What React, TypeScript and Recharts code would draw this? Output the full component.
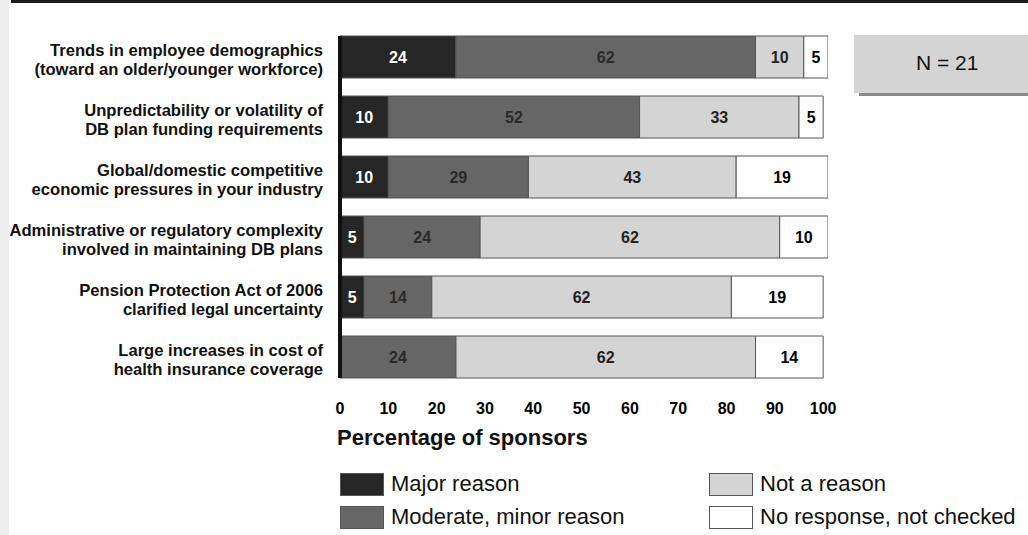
import React from 'react';
import { BarChart, Bar, XAxis, YAxis, LabelList } from 'recharts';

const categories = [
    'Trends in employee demographics\n(toward an older/younger workforce)',
    'Unpredictability or volatility of\nDB plan funding requirements',
    'Global/domestic competitive\neconomic pressures in your industry',
    'Administrative or regulatory complexity\ninvolved in maintaining DB plans',
    'Pension Protection Act of 2006\nclarified legal uncertainty',
    'Large increases in cost of\nhealth insurance coverage',
];
const majorReason = [24, 10, 10, 5, 5, 0];
const moderateReason = [62, 52, 29, 24, 14, 24];
const notReason = [10, 33, 43, 62, 62, 62];
const noResponse = [5, 5, 19, 10, 19, 14];
const xTicks = [0, 10, 20, 30, 40, 50, 60, 70, 80, 90, 100];

const seriesKeys = ['major', 'moderate', 'notReason', 'noResponse'];
const seriesNames = ['Major reason', 'Moderate, minor reason', 'Not a reason', 'No response, not checked'];
const seriesColors = ['#262626', '#666666', '#d4d4d4', '#ffffff'];
const labelColors = ['#ffffff', '#2a2a2a', '#222222', '#000000'];

const data = categories.map((name, i) => ({
    name,
    major: majorReason[i],
    moderate: moderateReason[i],
    notReason: notReason[i],
    noResponse: noResponse[i],
}));

const FONT = '"Liberation Sans", Arial, Helvetica, sans-serif';

const CategoryTick = (props: any) => {
    const { x, y, payload } = props;
    const lines = String(payload.value).split('\n');
    return (
        <text x={x} y={y} textAnchor="end" fontSize={16.6} fontWeight="bold" fill="#111" fontFamily={FONT}>
            <tspan x={x} y={y - 1}>{lines[0]}</tspan>
            <tspan x={x} y={y + 18}>{lines[1]}</tspan>
        </text>
    );
};

// legend slots: two columns, two rows
const legendPos = [
    { left: 340, top: 473 },
    { left: 340, top: 506 },
    { left: 709, top: 473 },
    { left: 709, top: 506 },
];

const App: React.FC = () => {
    return (
        <div style={{ position: 'absolute', left: 0, top: 0, width: 1028, height: 535, overflow: 'hidden', background: '#fff', fontFamily: FONT }}>
            <div style={{ position: 'absolute', left: 0, top: 0, width: 9, height: 535, background: '#ededed' }} />
            <div style={{ position: 'absolute', left: 11, top: 0, width: 1017, height: 3, background: '#1c1c1c' }} />

            <div style={{ position: 'absolute', left: 0, top: 0 }}>
                <BarChart
                    width={1028}
                    height={535}
                    data={data}
                    layout="vertical"
                    margin={{ top: 27, right: 200, bottom: 118, left: 0 }}
                    barSize={42}
                    style={{ fontFamily: FONT }}
                >
                    <XAxis
                        type="number"
                        domain={[0, 101]}
                        ticks={xTicks}
                        allowDataOverflow
                        tickLine={false}
                        axisLine={false}
                        tickSize={0}
                        tickMargin={16}
                        height={30}
                        tick={{ fontSize: 16, fontWeight: 'bold', fill: '#000' }}
                        interval={0}
                    />
                    <YAxis
                        type="category"
                        dataKey="name"
                        width={340}
                        tickLine={false}
                        tickSize={0}
                        tickMargin={17}
                        axisLine={{ stroke: '#111', strokeWidth: 4, strokeDasharray: '0 9 342 9' }}
                        tick={<CategoryTick />}
                        interval={0}
                    />
                    {seriesKeys.map((key, i) => (
                        <Bar
                            key={key}
                            dataKey={key}
                            name={seriesNames[i]}
                            stackId="a"
                            fill={seriesColors[i]}
                            stroke="#555"
                            strokeWidth={1}
                            isAnimationActive={false}
                        >
                            <LabelList
                                dataKey={key}
                                position="center"
                                fill={labelColors[i]}
                                fontSize={16}
                                fontWeight="bold"
                                formatter={(v: any) => (v ? v : '')}
                            />
                        </Bar>
                    ))}
                </BarChart>
            </div>

            <div style={{ position: 'absolute', left: 337, top: 427, fontSize: 22, lineHeight: '22px', fontWeight: 'bold', color: '#111', whiteSpace: 'nowrap' }}>
                Percentage of sponsors
            </div>

            {seriesNames.map((name, i) => (
                <div key={name} style={{ position: 'absolute', left: legendPos[i].left, top: legendPos[i].top, height: 22, whiteSpace: 'nowrap' }}>
                    <div style={{ position: 'absolute', left: 0, top: 0, width: 42, height: 21, background: seriesColors[i], border: '1px solid #555' }} />
                    <div style={{ position: 'absolute', left: 51, top: 0, fontSize: 22, lineHeight: '22px', color: '#111' }}>{name}</div>
                </div>
            ))}

            <div style={{ position: 'absolute', left: 854, top: 35, width: 174, height: 58, background: '#d4d4d4', boxShadow: '5px 3px 0 #8a8a8a' }}>
                <div style={{ position: 'absolute', left: 62, top: 17, fontSize: 21, lineHeight: '22px', color: '#111', whiteSpace: 'nowrap' }}>N = 21</div>
            </div>
        </div>
    );
};

export default App;
